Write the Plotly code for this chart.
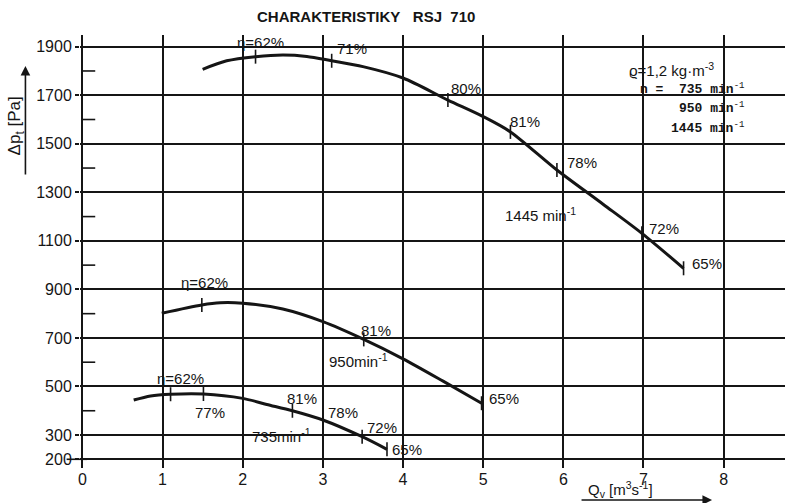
import plotly.graph_objects as go

# Fan characteristic curves: total pressure rise vs. volume flow, three speeds
q_1445 = [1.50, 1.80, 2.16, 2.50, 2.80, 3.11, 3.50, 4.00, 4.56, 5.00, 5.34, 5.92, 6.50, 6.98, 7.50]
p_1445 = [1807, 1842, 1859, 1866, 1860, 1842, 1818, 1771, 1680, 1612, 1549, 1392, 1250, 1131, 987]

q_950 = [0.99, 1.49, 1.72, 2.00, 2.50, 3.00, 3.51, 4.00, 4.50, 4.98]
p_950 = [802, 836, 845, 843, 819, 767, 694, 614, 522, 431]

q_735 = [0.64, 0.85, 1.10, 1.51, 2.00, 2.30, 2.62, 3.00, 3.49, 3.80]
p_735 = [444, 461, 468, 469, 451, 426, 400, 362, 293, 241]

# Efficiency points marked on each curve
eff_q_1445 = [2.16, 3.11, 4.56, 5.34, 5.92, 6.98, 7.50]
eff_p_1445 = [1859, 1842, 1680, 1549, 1392, 1131, 987]
eff_1445 = ["η=62%", "71%", "80%", "81%", "78%", "72%", "65%"]

eff_q_950 = [1.49, 3.51, 4.98]
eff_p_950 = [836, 694, 431]
eff_950 = ["η=62%", "81%", "65%"]

eff_q_735 = [1.10, 1.51, 2.62, 3.00, 3.49, 3.80]
eff_p_735 = [468, 469, 400, 362, 293, 241]
eff_735 = ["η=62%", "77%", "81%", "78%", "72%", "65%"]

y_ticks = [200, 300, 500, 700, 900, 1100, 1300, 1500, 1700, 1900]
y_minor = [400, 600, 800, 1000, 1200, 1400, 1600, 1800]
x_ticks = [0, 1, 2, 3, 4, 5, 6, 7, 8]

INK = "#151515"
FONT = "Liberation Sans"
PX_PER_Q = 80.2          # horizontal scale, px per m3/s
X_PAD = 0.03             # small room left of Q = 0 so the axis line is drawn in full

fig = go.Figure()

for q, p in [(q_1445, p_1445), (q_950, p_950), (q_735, p_735)]:
    fig.add_trace(go.Scatter(x=q, y=p, mode="lines", line=dict(color=INK, width=3, shape="spline", smoothing=0.8),
                             hoverinfo="skip", showlegend=False))

for q, p in [(eff_q_1445, eff_p_1445), (eff_q_950, eff_p_950), (eff_q_735, eff_p_735)]:
    fig.add_trace(go.Scatter(x=q, y=p, mode="markers",
                             marker=dict(symbol="line-ns", size=10, line=dict(color=INK, width=1.6)),
                             hoverinfo="skip", showlegend=False))

# label offsets (px) from each efficiency point
off_1445 = [(5, -14), (20, -12), (18, -12), (15, -10), (25, -7), (22, -5), (23, -5)]
off_950 = [(3, -22), (12, -9), (22, -5)]
off_735 = [(10, -16), (7, 18), (10, -12), (20, -7), (20, -9), (20, 0)]

for qs, ps, labels, offs in [(eff_q_1445, eff_p_1445, eff_1445, off_1445),
                             (eff_q_950, eff_p_950, eff_950, off_950),
                             (eff_q_735, eff_p_735, eff_735, off_735)]:
    for q, p, t, (dx, dy) in zip(qs, ps, labels, offs):
        fig.add_annotation(x=q, y=p, text=t, showarrow=False, xshift=dx, yshift=-dy,
                           xanchor="center", yanchor="middle",
                           font=dict(family=FONT, size=15, color=INK))

# speed labels
for q, p, t in [(5.71, 1207, "1445 min<sup>-1</sup>"), (3.44, 609, "950min<sup>-1</sup>"),
                (2.48, 300, "735min<sup>-1</sup>")]:
    fig.add_annotation(x=q, y=p, text=t, showarrow=False, xanchor="center", yanchor="middle",
                       font=dict(family=FONT, size=15, color=INK))

# minor ticks on the pressure axis
for v in y_minor:
    fig.add_shape(type="line", x0=0, x1=0.16, y0=v, y1=v, line=dict(color=INK, width=1.6))
# 200 Pa base line reaching past the axis
fig.add_shape(type="line", xref="paper", yref="y", x0=-0.019, x1=0.01, y0=200, y1=200,
              line=dict(color=INK, width=1.6))

W, H = 797, 503
L, R, T, B = 82 - round(X_PAD * PX_PER_Q, 1), 12, 35, 35
pw, ph = W - L - R, H - T - B


def paper(px, py):
    return (px - L) / pw, (H - B - py) / ph


def note(px, py, text, size=15, family=FONT, xanchor="center", angle=0):
    x, y = paper(px, py)
    fig.add_annotation(x=x, y=y, xref="paper", yref="paper", showarrow=False, text=text,
                       xanchor=xanchor, yanchor="middle", textangle=angle,
                       font=dict(family=family, size=size, color=INK))


def arrow(px, py, dx, dy):
    x, y = paper(px, py)
    fig.add_annotation(x=x, y=y, xref="paper", yref="paper", text="", showarrow=True,
                       ax=dx, ay=dy, arrowhead=2, arrowsize=1.2, arrowwidth=1.6, arrowcolor=INK)


# title
note(366, 17, "<b>CHARAKTERISTIKY\u00a0\u00a0\u00a0RSJ\u00a0\u00a0710</b>", size=15)

# medium / speed legend
note(671, 70, "ϱ=1,2 kg·m<sup>-3</sup>", size=15)
note(747, 88, "<b>n\u00a0=\u00a0\u00a0735 min</b><sup>-1</sup>", size=13, family="Liberation Mono", xanchor="right")
note(747, 108, "<b>950 min</b><sup>-1</sup>", size=13, family="Liberation Mono", xanchor="right")
note(747, 128, "<b>1445 min</b><sup>-1</sup>", size=13, family="Liberation Mono", xanchor="right")

# axis titles with arrows
note(16, 126, "Δp<sub>t</sub> [Pa]", size=17, angle=-90)
arrow(25, 66, 0, 110)

note(620, 489, "Q<sub>v</sub> [m<sup>3</sup>s<sup>-1</sup>]", size=15)
arrow(712, 500, -132, 0)

fig.update_layout(
    width=W, height=H,
    margin=dict(l=L, r=R, t=T, b=B),
    paper_bgcolor="white", plot_bgcolor="white",
    xaxis=dict(range=[-X_PAD, (W - 12 - 82) / PX_PER_Q], tickvals=x_ticks, showgrid=True, gridcolor=INK,
               gridwidth=1.5, zeroline=False, showline=False, ticks="", ticklabelstandoff=0,
               tickfont=dict(family=FONT, size=16, color=INK)),
    yaxis=dict(range=[164.1, 1948.2], tickvals=y_ticks, showgrid=True, gridcolor=INK, gridwidth=1.5,
               zeroline=False, showline=False,
               ticks="outside", ticklen=4, tickwidth=1.5, tickcolor=INK,
               tickfont=dict(family=FONT, size=16, color=INK)),
)

fig.write_html("out.html")
